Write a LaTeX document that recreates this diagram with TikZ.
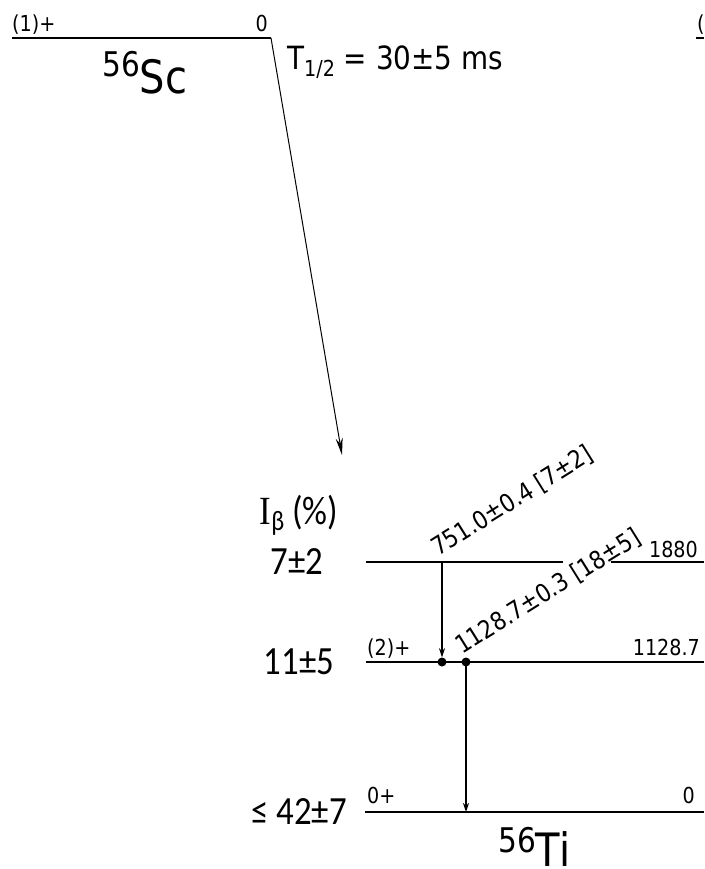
\documentclass[tikz,border=0pt]{standalone}
\usepackage{fontspec}
\setmainfont{DejaVu Sans}[FakeStretch=0.87]
\newfontfamily\calfont{Carlito}[FakeStretch=0.87]
\newfontfamily\serfont{Liberation Serif}[FakeStretch=0.87]
\usetikzlibrary{arrows.meta}
\tikzset{
  lvl/.style={line width=1.3pt, black},
  lab/.style={inner sep=0pt, font=\fontsize{22}{26}\selectfont},
  glab/.style={inner sep=0pt, anchor=base west, rotate=32, font=\fontsize{25}{29}\selectfont},
  ib/.style={inner sep=0pt, anchor=center, font=\calfont\fontsize{40}{46}\selectfont},
  nuc/.style={inner sep=0pt, anchor=base west, font=\fontsize{46}{52}\selectfont},
  gam/.style={line width=2.2pt, -{Stealth[length=9pt,width=6pt]}},
  beta/.style={line width=1pt, -{Stealth[length=17pt,width=7pt]}},
  dotn/.style={circle, fill=black, inner sep=0pt, minimum size=9pt}
}
\begin{document}
\begin{tikzpicture}[x=1pt,y=-1pt]
\useasboundingbox (0,0) rectangle (704,869);
% parent level 56Sc
\coordinate (scL) at (12,38);
\coordinate (scR) at (271,38);
\draw[lvl] (scL) -- (scR);
\node[lab, anchor=base west] (scJ) at (12,32) {(1)+};
\node[lab, anchor=base east] (scE) at (268,32) {0};
\node[nuc] (sc) at (102,94) {\raisebox{17pt}{\fontsize{34}{40}\selectfont 56}Sc};
\node[inner sep=0pt, anchor=base west, font=\fontsize{32}{38}\selectfont] (thalf) at (287,70)
  {T\raisebox{-7pt}{\fontsize{22}{26}\selectfont 1/2} = 30±5 ms};
% clipped level at top right
\coordinate (otherL) at (696,38);
\coordinate (otherR) at (704,38);
\draw[lvl] (otherL) -- (otherR);
\node[lab, anchor=base west] (otherJ) at (697,32) {(};
% beta arrow
\coordinate (betaEnd) at (342,455);
\draw[beta] (scR) -- (betaEnd);
% daughter levels
\coordinate (l1880a) at (366,562);
\coordinate (l1880b) at (563,562);
\coordinate (l1880c) at (611,562);
\coordinate (l1880d) at (704,562);
\draw[lvl] (l1880a) -- (l1880b);
\draw[lvl] (l1880c) -- (l1880d);
\node[lab, anchor=base east] (e1880) at (698,557) {1880};
\coordinate (l1128a) at (366,662);
\coordinate (l1128b) at (704,662);
\draw[lvl] (l1128a) -- (l1128b);
\node[lab, anchor=base west] (j1128) at (367,655) {(2)+};
\node[lab, anchor=base east] (e1128) at (700,655) {1128.7};
\coordinate (l0a) at (365,812);
\coordinate (l0b) at (704,812);
\draw[lvl] (l0a) -- (l0b);
\node[lab, anchor=base west] (j0) at (367,803) {0+};
\node[lab, anchor=base east] (e0) at (695,803) {0};
\node[nuc] (ti) at (498,866) {\raisebox{14pt}{\fontsize{34}{40}\selectfont 56}Ti};
% beta intensities
\node[ib] (ibh) at (299,515) {{\serfont I}\raisebox{-6pt}{\fontsize{28}{32}\selectfont β} (\%)};
\node[ib] (ib1880) at (297,562) {7±2};
\node[ib] (ib1128) at (299,662) {11±5};
\node[ib] (ib0) at (299,812) {≤ 42±7};
% gamma transitions
\coordinate (g751top) at (442,562);
\node[dotn] (d751) at (442,662) {};
\draw[gam] (g751top) -- (d751.north);
\node[glab] (t751) at (438,557) {751.0±0.4 [7±2]};
\node[dotn] (d1128) at (466,662) {};
\coordinate (g1128bot) at (466,812);
\draw[gam] (d1128.center) -- (g1128bot);
\node[glab] (t1128) at (462,655) {1128.7±0.3 [18±5]};
\end{tikzpicture}
\end{document}
